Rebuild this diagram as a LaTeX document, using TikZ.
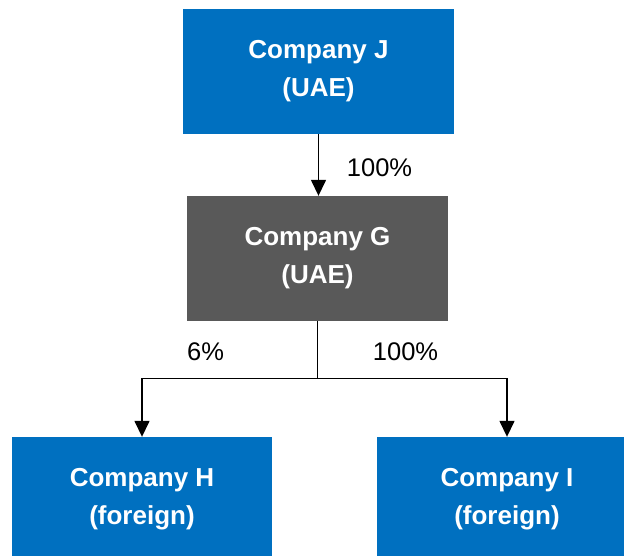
\documentclass[tikz,border=0pt]{standalone}
\usepackage{fontspec}
\setmainfont{Liberation Sans}
\usetikzlibrary{arrows.meta}
\definecolor{boxblue}{HTML}{0070C0}
\definecolor{boxgray}{HTML}{595959}
\tikzset{
  company/.style={rectangle, draw=none, text=white, align=center,
    inner sep=0pt, minimum width=#1, minimum height=125pt,
    font=\fontsize{26}{38}\selectfont\bfseries},
  pct/.style={inner sep=0pt, font=\fontsize{25.5}{30}\selectfont},
  link/.style={line width=1.5pt, -{Triangle[width=15pt,length=16pt]}},
  plainlink/.style={line width=1.5pt}
}
\begin{document}
\begin{tikzpicture}[x=1pt,y=1pt]
\useasboundingbox (0,0) rectangle (624,-555);
\clip (0,0) rectangle (624,-555);
\node[company=271pt, fill=boxblue] (J) at (318.5,-71.5) {Company J\\(UAE)};
\node[company=261pt, fill=boxgray] (G) at (317.5,-258.5) {Company G\\(UAE)};
\node[company=260pt, fill=boxblue] (H) at (142,-499.5) {Company H\\(foreign)};
\node[company=260pt, fill=boxblue] (I) at (507,-499.5) {Company I\\(foreign)};
\coordinate (br) at (317.5,-378.5);
\draw[link] (J.south) -- (J.south |- G.north);
\draw[plainlink] (G.south) -- (br);
\draw[link] (br) -| (H.north);
\draw[link] (br) -| (I.north);
\node[pct] (p1) at (379.5,-168) {100\%};
\node[pct] (p2) at (205.5,-352) {6\%};
\node[pct] (p3) at (405.5,-352) {100\%};
\end{tikzpicture}
\end{document}
